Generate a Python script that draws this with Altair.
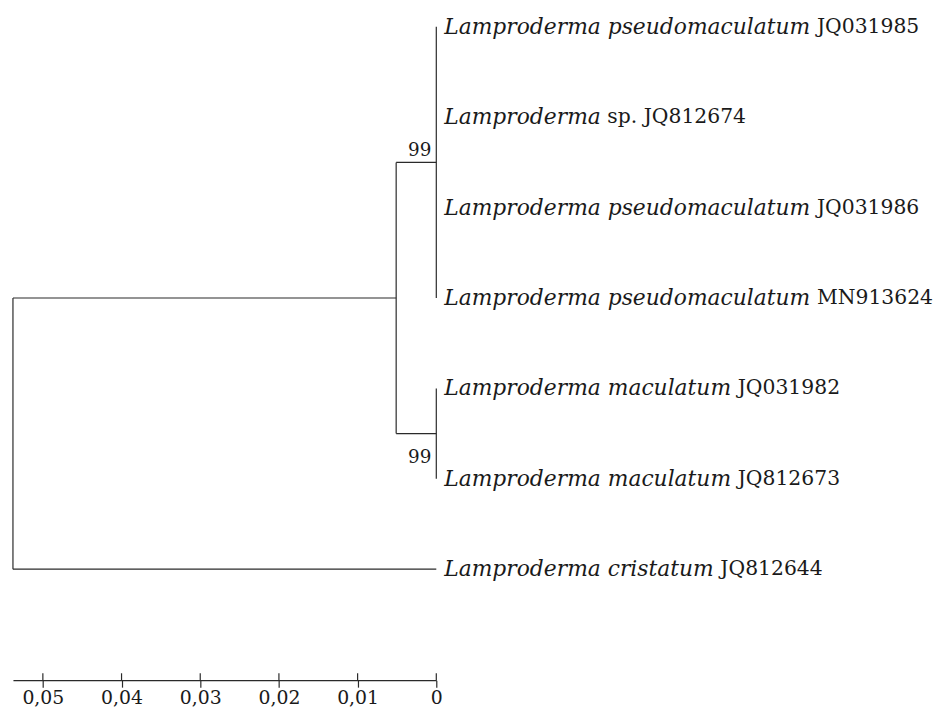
import glob
import struct

import altair as alt
import pandas as pd

# ---------------- data ----------------
tip_italic = [
    "Lamproderma pseudomaculatum",
    "Lamproderma",
    "Lamproderma pseudomaculatum",
    "Lamproderma pseudomaculatum",
    "Lamproderma maculatum",
    "Lamproderma maculatum",
    "Lamproderma cristatum",
]
tip_regular = [
    "JQ031985",
    "sp. JQ812674",
    "JQ031986",
    "MN913624",
    "JQ031982",
    "JQ812673",
    "JQ812644",
]
tip_row = [0, 1, 2, 3, 4, 5, 6]

node_names = ["A", "B", "C", "root"]
node_children = [[0, 1, 2, 3], [4, 5], ["A", "B"], ["C", 6]]
node_height = [0.0, 0.0, 0.0051, 0.0538]

boot_node = ["A", "B"]
boot_value = ["99", "99"]
boot_side = ["above", "below"]

axis_ticks = [0.05, 0.04, 0.03, 0.02, 0.01, 0.0]

# ---------------- styles ----------------
FONT = "DejaVu Serif"
LABEL_SIZE = 22
REG_SIZE = 20.5
SMALL_SIZE = 18.5
AXIS_SIZE = 19
LINE = "#2a2a2a"
TEXT = "#1a1a1a"
W, H = 427, 675
PAD = {"left": 5, "top": 0, "right": 501, "bottom": 25}


# ---------------- font metrics (for placing the upright part after the italic part) ----
def load_metrics(fname):
    paths = glob.glob("/usr/share/fonts/**/" + fname, recursive=True) + glob.glob(
        "/usr/local/share/fonts/**/" + fname, recursive=True
    )
    if not paths:
        return None
    data = open(paths[0], "rb").read()
    num = struct.unpack(">H", data[4:6])[0]
    tables = {}
    for i in range(num):
        tag, _cs, off, ln = struct.unpack(">4sIII", data[12 + 16 * i: 28 + 16 * i])
        tables[tag.decode("latin1")] = off
    head = tables["head"]
    upem = struct.unpack(">H", data[head + 18: head + 20])[0]
    hhea = tables["hhea"]
    nhm = struct.unpack(">H", data[hhea + 34: hhea + 36])[0]
    hmtx = tables["hmtx"]
    adv = [struct.unpack(">H", data[hmtx + 4 * i: hmtx + 4 * i + 2])[0] for i in range(nhm)]
    cm = tables["cmap"]
    n = struct.unpack(">H", data[cm + 2: cm + 4])[0]
    sub = None
    for i in range(n):
        pid, eid, off = struct.unpack(">HHI", data[cm + 4 + 8 * i: cm + 12 + 8 * i])
        if pid == 3 and eid == 1:
            sub = cm + off
    if sub is None or struct.unpack(">H", data[sub: sub + 2])[0] != 4:
        return None
    segx2 = struct.unpack(">H", data[sub + 6: sub + 8])[0]
    segs = segx2 // 2
    ends = struct.unpack(">%dH" % segs, data[sub + 14: sub + 14 + segx2])
    so = sub + 16 + segx2
    starts = struct.unpack(">%dH" % segs, data[so: so + segx2])
    do = so + segx2
    deltas = struct.unpack(">%dh" % segs, data[do: do + segx2])
    ro = do + segx2
    ros = struct.unpack(">%dH" % segs, data[ro: ro + segx2])

    def gid(ch):
        c = ord(ch)
        for i in range(segs):
            if ends[i] >= c:
                if starts[i] > c:
                    return 0
                if ros[i] == 0:
                    return (c + deltas[i]) & 0xFFFF
                addr = ro + 2 * i + ros[i] + 2 * (c - starts[i])
                g = struct.unpack(">H", data[addr: addr + 2])[0]
                return (g + deltas[i]) & 0xFFFF if g else 0
        return 0

    def width(s, size):
        return sum(adv[min(gid(ch), nhm - 1)] for ch in s) * size / upem

    return width


def safe_metrics(fname, factor):
    try:
        m = load_metrics(fname)
    except Exception:
        m = None
    if m is None:
        return lambda s, size: factor * size * len(s)
    return m


w_italic = safe_metrics("DejaVuSerif-Italic.ttf", 0.6)
w_regular = safe_metrics("DejaVuSerif.ttf", 0.6)

# ---------------- tree layout ----------------
pos = {}
for r in tip_row:
    pos[r] = (0.0, float(r))
segments = []
for name, kids, h in zip(node_names, node_children, node_height):
    ys = [pos[k][1] for k in kids]
    y_node = (min(ys) + max(ys)) / 2
    pos[name] = (h, y_node)
    segments.append({"x": h, "y": min(ys), "x2": h, "y2": max(ys)})
    for k in kids:
        kx, ky = pos[k]
        if abs(h - kx) > 1e-12:
            segments.append({"x": h, "y": ky, "x2": kx, "y2": ky})
seg_df = pd.DataFrame(segments)

tips_df = pd.DataFrame(
    {"x": [pos[r][0] for r in tip_row], "y": [pos[r][1] for r in tip_row],
     "it": tip_italic, "reg": tip_regular}
)
boot_df = pd.DataFrame(
    {"x": [pos[n][0] for n in boot_node], "y": [pos[n][1] for n in boot_node],
     "t": boot_value, "side": boot_side}
)
ticks_df = pd.DataFrame({"x": axis_ticks})

# ---------------- encodings ----------------
xscale = alt.Scale(domain=[0.0538, 0.0], nice=False, zero=False)
yscale = alt.Scale(domain=[-0.1755, 7.2285], reverse=True, nice=False, zero=False)
xaxis = alt.Axis(
    values=axis_ticks,
    labelExpr="datum.value == 0 ? '0' : replace(format(datum.value, '.2f'), '.', ',')",
    tickSize=7, tickColor=LINE, tickWidth=1.2,
    domainColor=LINE, domainWidth=1.2,
    labelFont=FONT, labelFontSize=AXIS_SIZE, labelColor=TEXT, labelPadding=1,
    labelFlush=False, labelOverlap=False, grid=False, title=None,
)
X = alt.X("x:Q", scale=xscale, axis=xaxis)
Y = alt.Y("y:Q", scale=yscale, axis=None)

tree = alt.Chart(seg_df).mark_rule(color=LINE, strokeWidth=1.2).encode(
    x=X, y=Y, x2="x2:Q", y2="y2:Q"
)

layers = [tree]

layers.append(
    alt.Chart(tips_df).mark_text(
        align="left", baseline="middle", dx=8, font=FONT, fontSize=LABEL_SIZE,
        fontStyle="italic", color=TEXT,
    ).encode(x=X, y=Y, text="it:N")
)

for it in sorted(set(tip_italic)):
    off = 8 + w_italic(it, LABEL_SIZE) + w_regular(" ", REG_SIZE)
    layers.append(
        alt.Chart(tips_df).transform_filter(alt.datum.it == it).mark_text(
            align="left", baseline="middle", dx=off, font=FONT, fontSize=REG_SIZE,
            color=TEXT,
        ).encode(x=X, y=Y, text="reg:N")
    )

layers.append(
    alt.Chart(boot_df).transform_filter(alt.datum.side == "above").mark_text(
        align="right", baseline="alphabetic", dx=-5, dy=-7, font=FONT,
        fontSize=SMALL_SIZE, color=TEXT,
    ).encode(x=X, y=Y, text="t:N")
)
layers.append(
    alt.Chart(boot_df).transform_filter(alt.datum.side == "below").mark_text(
        align="right", baseline="alphabetic", dx=-5, dy=30, font=FONT,
        fontSize=SMALL_SIZE, color=TEXT,
    ).encode(x=X, y=Y, text="t:N")
)

# upper half of the axis ticks (ticks cross the axis line)
layers.append(
    alt.Chart(ticks_df).mark_rule(color=LINE, strokeWidth=1.2).encode(
        x=X, y=alt.value(H - 7), y2=alt.value(H)
    )
)

chart = (
    alt.layer(*layers)
    .properties(width=W, height=H, padding=PAD, background="white",
                autosize=alt.AutoSizeParams(type="none"))
    .configure_view(stroke="transparent", strokeWidth=0)
)

chart.save("out.html", embed_options={"renderer": "svg", "actions": False})
